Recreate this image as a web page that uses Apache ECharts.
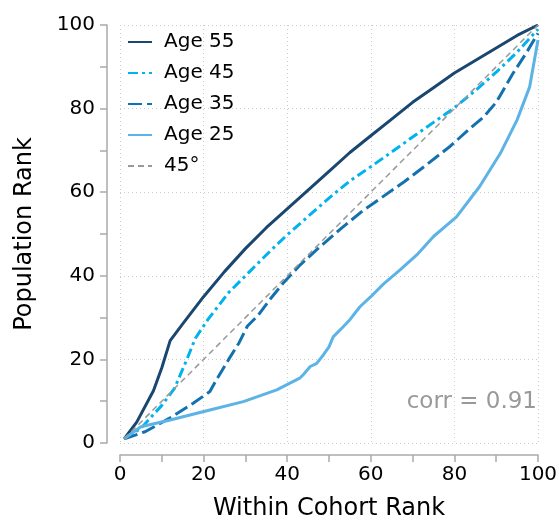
<!DOCTYPE html>
<html>
<head>
<meta charset="utf-8">
<script src="https://cdn.jsdelivr.net/npm/echarts@6/dist/echarts.min.js"></script>
<style>
  html, body { margin: 0; padding: 0; background: #fff; }
  #chart { width: 559px; height: 522px; }
</style>
</head>
<body>
<div id="chart"></div>
<script>
  // rank curves
  var age55X = [1, 4, 8, 10, 12, 15, 20, 25, 30, 35, 40, 45, 50, 55, 60, 65, 70, 75, 80, 85, 90, 95, 100];
  var age55Y = [1, 5, 12.5, 18, 24.5, 28.5, 35, 41, 46.5, 51.5, 56, 60.5, 65, 69.5, 73.5, 77.5, 81.5, 85, 88.5, 91.5, 94.5, 97.5, 100];

  var age45X = [1, 5, 10, 13, 16, 18, 21, 26, 31, 36, 40, 45, 50, 55, 60, 65, 70, 75, 80, 85, 90, 95, 100];
  var age45Y = [1, 3.5, 9, 13, 20, 25, 29.5, 36, 41, 46, 49.8, 54.2, 58.6, 62.7, 66.1, 69.6, 73.2, 76.7, 80.2, 84.3, 88.7, 93.5, 99];

  var age35X = [1, 6, 12, 17.5, 21.5, 23, 26, 28.5, 30.5, 33, 36, 39, 43, 47, 53, 58, 63, 68, 73, 79, 84, 87, 90, 94, 97, 100];
  var age35Y = [1, 2.7, 6, 9.5, 12.3, 15, 20, 24, 28, 30.5, 34.5, 38.2, 42.5, 46.2, 51.4, 55.5, 59, 62.5, 66.3, 71, 75.5, 78, 81.5, 88.4, 93, 98];

  var age25X = [1, 5, 12, 21.5, 29.5, 37.5, 43, 44, 45.5, 47, 48.6, 50, 51, 53.4, 55, 57.4, 60, 63, 67, 71, 75, 80.5, 86, 91, 95, 98, 100];
  var age25Y = [1, 3.9, 5.5, 7.9, 9.9, 12.7, 15.5, 16.5, 18.3, 19, 21, 23, 25.4, 27.8, 29.5, 32.6, 35, 38, 41.4, 45, 49.4, 54.1, 61.3, 69.3, 77.3, 85.2, 96.4];

  var diagX = [1, 100];
  var diagY = [1, 100];

  var seriesNames = ['Age 55', 'Age 45', 'Age 35', 'Age 25', '45°'];
  var corrText = 'corr = 0.91';

  var font = 'DejaVu Sans';

  function pairs(xs, ys) {
    return xs.map(function (x, i) { return [x, ys[i]]; });
  }

  function curve(name, xs, ys, color, type, width) {
    return {
      name: name,
      type: 'line',
      data: pairs(xs, ys),
      symbol: 'none',
      smooth: false,
      silent: true,
      lineStyle: { color: color, width: width, type: type },
      itemStyle: { color: color }
    };
  }

  var axisCommon = {
    type: 'value',
    min: 0,
    max: 100,
    interval: 20,
    axisLine: { show: true, onZero: false, lineStyle: { color: '#aaa', width: 1.5 } },
    axisTick: { show: true, length: 7, lineStyle: { color: '#aaa', width: 1.5 } },
    minorTick: { show: true, splitNumber: 2, length: 7, lineStyle: { color: '#aaa', width: 1.5 } },
    splitLine: { show: true, lineStyle: { color: '#ccc', type: [1, 3], width: 1 } },
    nameLocation: 'middle',
    nameTextStyle: { fontFamily: font, fontSize: 24, color: '#000' }
  };

  var myChart = echarts.init(document.getElementById('chart'));
  myChart.setOption({
    animation: false,
    backgroundColor: '#fff',
    grid: { left: 120, right: 21, top: 25, bottom: 79, containLabel: false, outerBoundsMode: 'none' },
    xAxis: echarts.util.merge({
      name: 'Within Cohort Rank',
      nameGap: 42,
      offset: 12,
      axisLabel: { fontFamily: font, fontSize: 20, color: '#000', margin: 10 }
    }, axisCommon),
    yAxis: echarts.util.merge({
      name: 'Population Rank',
      nameGap: 70,
      offset: 13,
      axisLabel: { fontFamily: font, fontSize: 20, color: '#000', margin: 12 }
    }, axisCommon),
    legend: {
      orient: 'vertical',
      left: 122,
      top: 27,
      itemWidth: 24,
      itemHeight: 14,
      itemGap: 11,
      data: seriesNames,
      itemStyle: { opacity: 0 },
      textStyle: { fontFamily: font, fontSize: 20, color: '#000', padding: [0, 0, 0, 7] }
    },
    graphic: [{
      type: 'text',
      right: 22,
      top: 391,
      style: { text: corrText, fontFamily: font, fontSize: 23, fill: '#999' }
    }],
    series: [
      curve(seriesNames[0], age55X, age55Y, '#1a476f', 'solid', 3),
      curve(seriesNames[1], age45X, age45Y, '#00b2ee', [10, 4, 3, 4], 3),
      curve(seriesNames[2], age35X, age35Y, '#1272b0', [14, 5], 3),
      curve(seriesNames[3], age25X, age25Y, '#5bb3e6', 'solid', 3),
      curve(seriesNames[4], diagX, diagY, '#999', [6, 4], 1.5)
    ]
  });
</script>
</body>
</html>
